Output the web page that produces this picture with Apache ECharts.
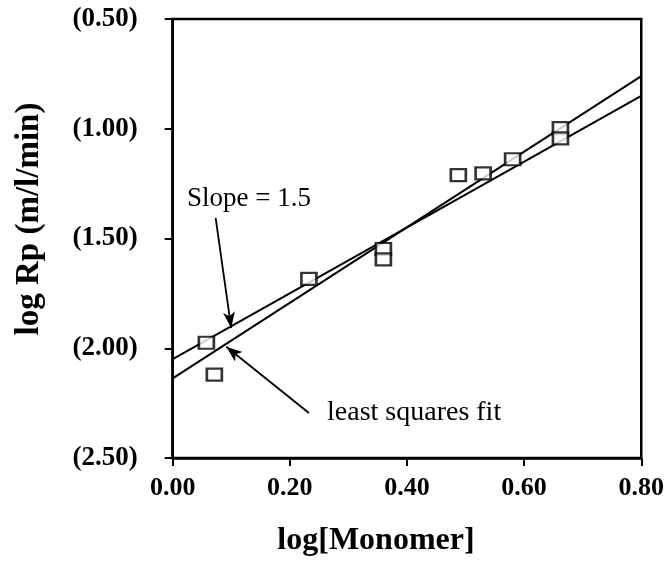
<!DOCTYPE html>
<html>
<head>
<meta charset="utf-8">
<script src="https://cdn.jsdelivr.net/npm/echarts@6/dist/echarts.min.js"></script>
<style>
  html, body { margin: 0; padding: 0; background: #fff; }
  #chart { width: 667px; height: 561px; }
</style>
</head>
<body>
<div id="chart"></div>
<script>
// Measured rates against monomer concentration (both log scale)
const monomerLog = [0.0575, 0.0711, 0.2326, 0.3597, 0.3597, 0.4877, 0.530, 0.5804, 0.662, 0.662];
const rateLog    = [-1.975, -2.120, -1.684, -1.548, -1.595, -1.211, -1.203, -1.139, -0.997, -1.044];

// Reference line of slope 1.5 and the least squares fit (end points)
const slopeLineX = [0, 0.8];
const slopeLineY = [-2.05, -0.85];
const fitLineX   = [0, 0.8];
const fitLineY   = [-2.137, -0.76];

// Annotation arrows: [fromX, fromY, toX, toY]
const slopeArrow = [0.0733, -1.4066, 0.0999, -1.908];
const fitArrow   = [0.2326, -2.295, 0.0915, -1.993];

const serif = '"Liberation Serif", "Times New Roman", serif';

const points = monomerLog.map((x, i) => [x, rateLog[i]]);
const slopeLine = slopeLineX.map((x, i) => [x, slopeLineY[i]]);
const fitLine = fitLineX.map((x, i) => [x, fitLineY[i]]);

const chart = echarts.init(document.getElementById('chart'), null, { renderer: 'canvas' });

chart.setOption({
  animation: false,
  backgroundColor: '#fff',
  grid: {
    left: 172.7, right: 22, top: 19, bottom: 103,
    show: true, borderColor: '#000', borderWidth: 2.5
  },
  xAxis: {
    type: 'value', min: 0, max: 0.8, interval: 0.2,
    axisLine: { show: true, onZero: false, lineStyle: { color: '#000', width: 2.5 } },
    axisTick: { show: true, length: 8, lineStyle: { color: '#000', width: 2 } },
    splitLine: { show: false },
    axisLabel: {
      margin: 17, color: '#000',
      fontFamily: serif, fontWeight: 'bold', fontSize: 26,
      formatter: v => v.toFixed(2)
    }
  },
  yAxis: {
    type: 'value', min: -2.5, max: -0.5, interval: 0.5,
    axisLine: { show: true, onZero: false, lineStyle: { color: '#000', width: 2.5 } },
    axisTick: { show: true, length: 8, lineStyle: { color: '#000', width: 2 } },
    splitLine: { show: false },
    axisLabel: {
      margin: 35, color: '#000',
      fontFamily: serif, fontWeight: 'bold', fontSize: 27,
      formatter: v => '(' + Math.abs(v).toFixed(2) + ')'
    }
  },
  series: [
    {
      name: 'Slope = 1.5', type: 'line', data: slopeLine,
      symbol: 'none', lineStyle: { color: '#000', width: 2 },
      markLine: {
        silent: true, animation: false,
        symbol: ['none', 'arrow'], symbolSize: [9, 16],
        lineStyle: { color: '#000', width: 1.8, type: 'solid' },
        label: { show: false },
        data: [
          [{ coord: [slopeArrow[0], slopeArrow[1]] }, { coord: [slopeArrow[2], slopeArrow[3]] }],
          [{ coord: [fitArrow[0], fitArrow[1]] }, { coord: [fitArrow[2], fitArrow[3]] }]
        ]
      }
    },
    {
      name: 'least squares fit', type: 'line', data: fitLine,
      symbol: 'none', lineStyle: { color: '#000', width: 2 }
    },
    {
      name: 'data', type: 'scatter', data: points,
      symbol: 'rect', symbolSize: [15, 12],
      itemStyle: { color: '#fff', borderColor: '#000', borderWidth: 2.4 },
      z: 5
    }
  ],
  graphic: [
    {
      type: 'text', left: 187, top: 185,
      style: { text: 'Slope = 1.5', font: '27px ' + serif, fill: '#000' }
    },
    {
      type: 'text', left: 327, top: 399,
      style: { text: 'least squares fit', font: '28px ' + serif, fill: '#000' }
    },
    {
      type: 'text', x: 376, y: 541,
      style: { text: 'log[Monomer]', font: 'bold 32px ' + serif, fill: '#000', align: 'center', verticalAlign: 'middle' }
    },
    {
      type: 'text', x: 29, y: 219, rotation: Math.PI / 2,
      style: { text: 'log Rp (m/l/min)', font: 'bold 33px ' + serif, fill: '#000', align: 'center', verticalAlign: 'middle' }
    }
  ]
});
</script>
</body>
</html>
